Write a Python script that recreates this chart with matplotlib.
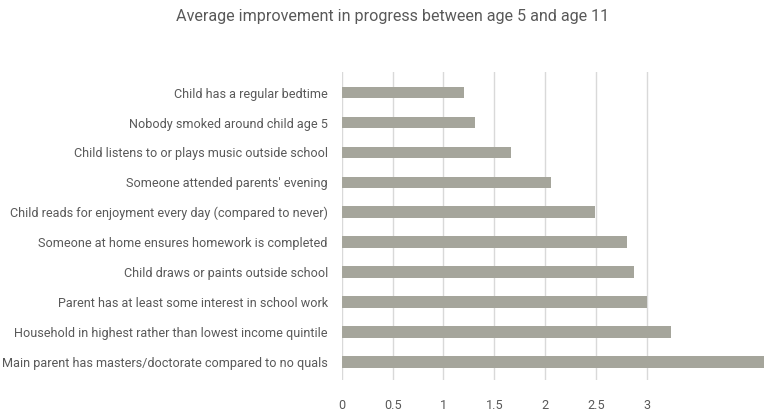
import matplotlib.pyplot as plt

plt.rcParams['font.family'] = ['Roboto', 'DejaVu Sans']

labels = [
    "Main parent has masters/doctorate compared to no quals",
    "Household in highest rather than lowest income quintile",
    "Parent has at least some interest in school work",
    "Child draws or paints outside school",
    "Someone at home ensures homework is completed",
    "Child reads for enjoyment every day (compared to never)",
    "Someone attended parents' evening",
    "Child listens to or plays music outside school",
    "Nobody smoked around child age 5",
    "Child has a regular bedtime",
]
values = [4.3, 3.235, 3.0, 2.87, 2.81, 2.49, 2.06, 1.66, 1.31, 1.20]
xticks = [0, 0.5, 1, 1.5, 2, 2.5, 3]
xtick_labels = ["0", "0.5", "1", "1.5", "2", "2.5", "3"]

text_col = "#595959"
bar_col = "#a5a59b"
grid_col = "#d9d9d9"

fig = plt.figure(figsize=(7.64, 4.11), dpi=100)
ax = fig.add_axes([0.4473, 0.0754, 0.5527, 0.7501])

pos = range(len(labels))
ax.barh(pos, values, height=0.39, color=bar_col, zorder=2)

# gridlines only up to 3, like the source
for t in xticks:
    ax.axvline(t, color=grid_col, lw=1, zorder=1)

ax.set_xlim(0, 4.153)
ax.set_ylim(-0.61, 9.7)
ax.set_xticks(xticks)
ax.set_xticklabels(xtick_labels)
ax.set_yticks(list(pos))
ax.set_yticklabels(labels)
ax.tick_params(axis='x', length=0, pad=14, labelsize=9.1, labelcolor=text_col)
ax.tick_params(axis='y', length=0, pad=10, labelsize=9.1, labelcolor=text_col)
for s in ax.spines.values():
    s.set_visible(False)

fig.text(393 / 764, 1 - 17 / 411, "Average improvement in progress between age 5 and age 11",
         ha='center', va='center', fontsize=11.6, color=text_col)

fig.savefig("out.png", dpi=100)
